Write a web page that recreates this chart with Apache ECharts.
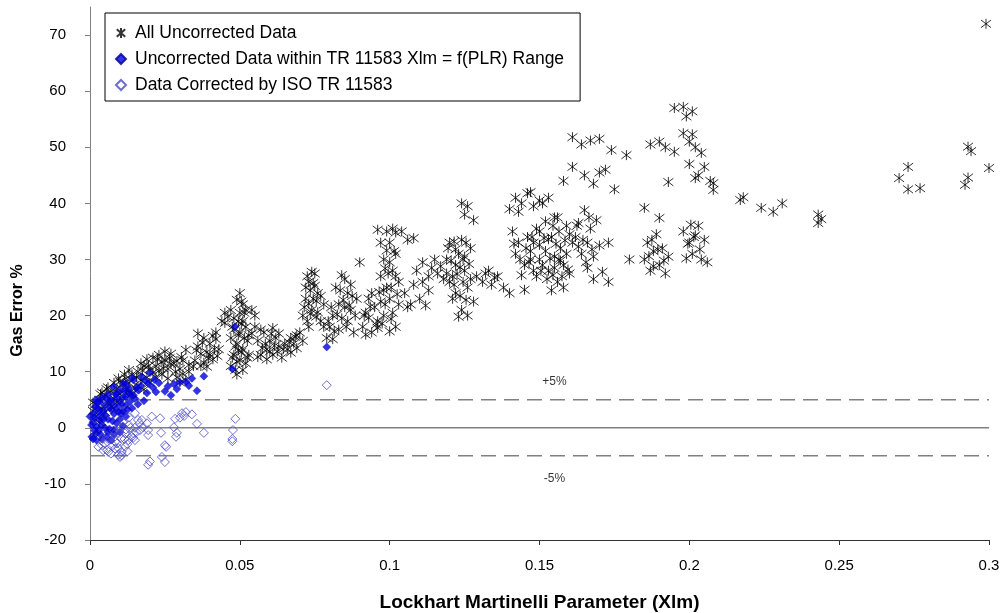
<!DOCTYPE html>
<html>
<head>
<meta charset="utf-8">
<script src="https://cdn.jsdelivr.net/npm/echarts@6/dist/echarts.min.js"></script>
<style>html,body{margin:0;padding:0;background:#fff}#c{width:1003px;height:613px}</style>
</head>
<body>
<div id="c"></div>
<script>
const FONT = '"Liberation Sans", Arial, sans-serif';
const xTicks = [0, 0.05, 0.1, 0.15, 0.2, 0.25, 0.3];
const yTicks = [-20, -10, 0, 10, 20, 30, 40, 50, 60, 70];
const seriesNames = ['All Uncorrected Data', 'Uncorrected Data within TR 11583 Xlm = f(PLR) Range', 'Data Corrected by ISO TR 11583'];

const allUncorrected = [
[0.001,3],[0.002,4.2],[0.003,5],[0.004,3.5],[0.005,5.8],[0.006,4.5],[0.007,6.5],[0.008,5.2],[0.009,7],[0.010,6],[0.011,7.8],[0.012,6.8],[0.002,2],[0.004,6.3],[0.006,7.2],[0.008,8],[0.010,8.3],[0.012,8.8],[0.003,1],[0.001,4.5],[0.005,2.8],[0.007,3.8],[0.009,4.5],
[0.013,8],[0.014,9.5],[0.015,7],[0.016,10],[0.017,8.5],[0.018,11],[0.019,9],[0.02,10.5],[0.014,6],[0.016,7.5],[0.018,6.8],[0.02,8],[0.013,10.3],[0.017,11.5],[0.019,12.2],
[0.0155,9],[0.0175,10.2],[0.0195,11],[0.0115,9.5],[0.0095,8.8],[0.0225,12.2],[0.0245,10.6],[0.0265,12.4],[0.0285,10],[0.0305,12.6],[0.0055,6.9],[0.0035,6],
[0.021,12.5],[0.022,11],[0.023,13],[0.024,9.5],[0.025,12],[0.026,10.5],[0.027,13.2],[0.022,9],[0.024,11.8],[0.026,8.8],[0.023,10.2],[0.025,13.6],[0.021,9.8],[0.027,11.4],
[0.028,11.5],[0.029,9],[0.030,10.5],[0.031,12],[0.032,8.5],[0.033,10],[0.029,11.9],[0.031,9.6],[0.032,13.9],[0.033,11.2],[0.030,8.1],
[0.035,12],[0.036,14.5],[0.037,11],[0.038,16],[0.039,13.5],[0.040,15],[0.041,12.2],[0.042,17],[0.043,14],[0.036,16.8],[0.038,11.6],[0.040,13],[0.042,15.8],[0.037,13.2],[0.041,16.4],[0.039,10.9],
[0.0355,13.8],[0.0375,15.2],[0.0395,12.4],[0.0415,14],[0.0425,12.8],[0.0345,11],
[0.044,19],[0.045,20.5],[0.046,19.8],[0.047,21],[0.045,18.7],
[0.047,11],[0.048,13],[0.049,15],[0.050,17],[0.051,19],[0.052,21],[0.049,22.8],[0.050,24],[0.048,19.5],[0.051,14],[0.052,11.5],[0.053,16.5],[0.047,16],[0.049,9.5],[0.050,12],[0.051,22],[0.048,17.5],[0.052,18],[0.053,13],[0.050,20.5],[0.049,11.8],[0.051,10.3],
[0.0475,12.5],[0.0485,14.5],[0.0495,16.5],[0.0505,18.5],[0.0515,20.5],[0.0525,15.5],[0.0485,10.3],[0.0505,13.5],[0.0515,16],[0.0495,19],[0.0525,12.5],[0.0475,18],[0.0505,22.5],[0.0495,13.8],
[0.054,21],[0.055,18],[0.056,15.5],[0.057,13],[0.055,20],[0.056,12.6],[0.054,16.8],[0.057,17.5],
[0.058,17],[0.059,14],[0.060,15.5],[0.061,13],[0.062,16],[0.063,14.5],[0.064,12.5],[0.065,15],[0.059,12.2],[0.061,17.8],[0.063,16.8],[0.060,13.6],
[0.0585,15],[0.0605,16.8],[0.0625,13.6],[0.0645,14],[0.0665,15.2],[0.0685,16.2],[0.0575,14.2],[0.0615,14.6],
[0.066,14],[0.067,16],[0.068,15],[0.069,14.2],[0.070,17],[0.071,15.5],[0.067,13.4],[0.069,16.5],
[0.071,20],[0.072,23],[0.073,26],[0.074,21],[0.075,27.5],[0.076,24],[0.077,19],[0.078,22],[0.073,18],[0.075,25.3],[0.074,27.8],[0.076,20.6],[0.072,25],[0.077,23.5],[0.078,18],[0.073,22.1],
[0.0715,21.5],[0.0725,19],[0.0735,24.5],[0.0745,23],[0.0755,19.8],[0.0735,20.3],[0.0745,25.8],[0.0725,27],[0.0755,22.6],
[0.079,16],[0.080,18],[0.081,20],[0.082,25],[0.083,22],[0.084,19.5],[0.085,26.5],[0.086,24],[0.087,21],[0.088,17],[0.089,23],[0.081,15.8],[0.083,17.5],[0.085,21.5],[0.087,25.5],[0.084,27.2],[0.086,19],
[0.0795,19],[0.0805,21.5],[0.0815,17.2],[0.0825,20.2],[0.0835,24.5],[0.0845,22.8],[0.0855,18],[0.0865,21.8],[0.0875,23.5],[0.0885,20],
[0.09,29.5],
[0.091,18],[0.092,20.5],[0.093,23],[0.094,17],[0.095,21.5],[0.096,19],[0.097,22.5],[0.092,16.6],[0.094,24],[0.096,17.8],[0.093,19.6],
[0.097,27],[0.098,30],[0.099,25],[0.100,33],[0.101,28],[0.102,31],[0.103,26],[0.098,20],[0.100,23],[0.102,18],[0.099,35],[0.101,35.5],[0.097,33],[0.103,22],[0.100,29.5],[0.098,24.5],[0.101,20.5],[0.099,31.6],[0.102,34.8],[0.104,35],[0.106,33.5],[0.096,35.3],[0.100,17.2],[0.102,27],[0.108,33.8],
[0.0915,20],[0.0935,21.6],[0.0955,18.4],[0.0985,22],[0.0995,27.5],[0.1005,25],[0.1015,31.5],[0.0985,28.4],[0.1005,19.4],[0.0975,18.6],[0.1025,23.8],[0.0965,24.2],
[0.105,24],[0.107,22],[0.108,25.5],[0.110,23],[0.111,26],[0.112,21.8],[0.113,24.5],[0.106,21.5],
[0.109,28],[0.111,29.5],[0.113,27],[0.114,28.5],[0.115,30],[0.116,27.5],[0.117,28.8],[0.118,26.5],
[0.119,30],[0.120,33],[0.121,27],[0.122,24],[0.123,31],[0.124,21],[0.125,28],[0.126,25],[0.127,32],[0.128,22.5],[0.120,26],[0.122,29],[0.124,33.5],[0.126,20],[0.121,23],[0.125,30.5],[0.127,26.5],[0.123,19.8],[0.124,40],[0.126,39.5],[0.125,38],[0.128,37],[0.122,31.8],[0.119,27.5],
[0.1195,32],[0.1205,29.8],[0.1215,25.5],[0.1225,27.4],[0.1235,23.5],[0.1245,26],[0.1255,22.8],[0.1235,28.6],[0.1215,33.2],[0.1255,33],[0.1265,29.2],[0.1245,30],
[0.129,27],[0.131,26],[0.132,27.5],[0.134,25.5],[0.135,26.8],[0.136,27],[0.133,28],
[0.138,25],[0.140,24],[0.145,24.6],
[0.140,39],[0.142,41],[0.144,40],[0.146,41.8],[0.148,39.5],[0.150,40.5],[0.143,38.5],
[0.141,35],[0.142,31],[0.143,33],[0.145,29],[0.146,34],[0.147,31.5],[0.148,28],[0.149,35.5],[0.150,30],[0.144,27.2],
[0.1415,32.8],[0.1435,30],[0.1455,32],[0.1475,34],[0.1465,29.5],
[0.161,51.8],[0.164,50.5],[0.167,51.2],[0.170,51.5],[0.174,49.5],[0.179,48.6],
[0.158,44],[0.161,46.5],[0.165,45],[0.168,43.5],[0.170,45.5],[0.172,46],[0.175,42.5],
[0.147,42],[0.151,40],[0.153,41],[0.155,37.5],
[0.147,30],[0.148,33],[0.149,27],[0.150,35],[0.151,29],[0.152,31.5],[0.153,28],[0.154,34],[0.155,30.5],[0.156,26],[0.157,32],[0.158,29],[0.159,36],[0.160,27.5],[0.161,33],[0.154,24.5],[0.156,37.5],[0.158,25],[0.152,36.8],[0.150,32.6],[0.157,29.8],[0.159,31],[0.153,33.6],[0.155,28.5],[0.160,34.5],
[0.1505,28],[0.1515,33.8],[0.1535,30.2],[0.1545,27.2],[0.1565,35],[0.1575,27],[0.1555,32.8],[0.1525,26.5],[0.1585,33.4],[0.1595,28.2],[0.1545,36],[0.1565,30],
[0.162,34],[0.163,36.5],[0.164,31],[0.165,38.8],[0.166,33],[0.167,35.5],[0.168,30.5],[0.169,37],[0.170,32.5],[0.163,32.3],
[0.1625,36],[0.1645,33.5],[0.1665,37.5],[0.1675,31.8],[0.1655,29.5],
[0.166,28.5],[0.168,26.5],[0.171,27.8],[0.173,26],
[0.173,33],[0.180,30],[0.185,39.2],[0.19,37.4],
[0.185,30],[0.186,33],[0.187,28],[0.188,31.5],[0.189,34.5],[0.190,29],[0.191,32],[0.192,27.5],[0.193,30.5],[0.188,28.8],
[0.1865,30.6],[0.1895,31.8],[0.1875,33.5],[0.1915,29.8],
[0.190,51],[0.192,50],[0.195,49.2],[0.193,43.8],[0.187,50.5],
[0.198,52.5],[0.200,51],[0.202,50],[0.204,49],[0.201,52.3],
[0.200,47],[0.203,45],[0.205,46.5],[0.207,44],[0.208,43.6],[0.202,44.5],[0.208,42.4],
[0.198,35],[0.200,33],[0.201,31],[0.203,36],[0.204,30],[0.205,33.5],[0.206,29.5],[0.199,30.2],[0.202,34.3],
[0.1995,32.8],[0.2015,34],[0.2035,31.8],[0.2005,36.2],
[0.217,40.6],
[0.195,57],[0.198,57.2],[0.201,56.4],[0.199,55.5],
[0.218,41.1],[0.224,39.2],[0.228,38.5],[0.231,40],[0.243,38],[0.243,36.5],[0.244,37.2],
[0.273,46.5],[0.27,44.5],[0.273,42.5],[0.277,42.7],
[0.293,50.1],[0.294,49.3],[0.293,44.6],[0.292,43.3],[0.3,46.3],[0.299,72]
];

const withinRange = [
[0.0195,7.9],[0.0161,6.7],[0.0145,8.5],[0.0173,9.1],[0.0111,7.9],[0.0128,6.4],[0.0089,6.1],[0.0078,7.3],[0.01,4.7],[0.0067,4.7],[0.0033,4.7],[0.0017,3.8],[0.0011,2.6],[0.0033,1.4],[0.0022,0.2],[0.0006,-1.6],[0.0022,-2.2],[0.0056,-1.6],[0.0078,-0.4],[0.0089,0.8],[0.005,2.3],[0.0072,3.2],[0.0111,5.5],[0.0134,4.7],[0.015,5.2],
[0.001,1],[0.002,-1],[0.003,3],[0.004,0.5],[0.004,-2],[0.005,4],[0.006,1.5],[0.006,-0.8],[0.007,5],[0.008,2.5],[0.009,3.5],[0.01,1.5],[0.011,3],[0.012,2],[0.003,-0.5],[0.005,0],[0.007,-2.2],[0.008,-1.2],[0.01,-0.8],[0.011,0.3],[0.012,4],[0.013,7],[0.014,3.5],[0.009,5.3],[0.0,2],[0.001,-2],[0.002,5],[0.004,5.4],[0.006,6],[0.008,4],[0.010,6.8],[0.012,5.5],[0.0135,6],[0.017,7.5],[0.019,6.2],[0.021,7.2],[0.022,6.4],[0.018,4.8],[0.016,4.2],[0.023,8],[0.014,8.9],[0.012,7.8],[0.020,9.8],
[0.0005,0.5],[0.0015,1.8],[0.0025,3.5],[0.0035,2.2],[0.0045,3],[0.0055,5.2],[0.0065,3.6],[0.0075,1.2],[0.0085,6],[0.0095,2.8],[0.0105,4.2],[0.0115,6.6],[0.0015,-0.5],[0.0035,-1.2],[0.0065,-0.2],[0.0045,1.5],[0.0105,2.6],[0.0125,3.2],[0.0155,7.2],[0.0185,8.4],[0.0215,8.6],[0.0145,5.8],[0.0025,4.5],
[0.025,6.5],[0.026,7.4],[0.028,7.8],[0.030,8.1],[0.032,8.2],[0.034,8.8],[0.029,6.9],[0.027,5.8],[0.033,7.5],
[0.0475,10.5],[0.0484,18],[0.038,9.2],[0.0357,6.6],[0.079,14.4]
];

const corrected = [
[0.0485,1.6],[0.0477,-0.4],[0.0475,-2.0],[0.0475,-2.4],[0.0357,0.7],[0.038,-0.9],[0.034,2.4],[0.032,2.8],[0.0307,2.6],[0.0314,2.1],[0.030,1.8],[0.0284,1.6],[0.028,0.1],[0.029,-0.9],[0.0287,-1.6],[0.0234,1.7],[0.0237,-0.9],[0.025,-3.1],[0.0254,-3.4],[0.024,-5.2],[0.025,-6.1],[0.0194,-6.6],[0.019,0.8],[0.0194,-0.4],[0.0194,-1.3],[0.0177,0.1],[0.016,1.4],[0.015,0],[0.0144,-1.8],[0.0124,-2.9],[0.01,-5.2],[0.0094,-3.6],[0.0077,-3.1],[0.0057,-4],[0.004,-3.1],[0.079,7.6],
[0.015,2.6],[0.0173,1.4],[0.0206,2.0],[0.0028,-3.4],[0.0044,-4.0],[0.0061,-4.3],[0.0084,-3.7],[0.0095,-4.8],[0.0106,-4.3],[0.0117,-3.4],[0.0084,-2.5],[0.005,-2.8],[0.0128,-2.2],[0.0139,-1.6],[0.015,-2.2],[0.0145,-1.0],[0.0167,-0.4],[0.0117,-1.0],[0.0095,-1.0],[0.0073,-1.6],[0.0039,-2.2],[0.02,-6.0],
[0.011,1],[0.013,0.5],[0.012,-0.3],[0.01,0.2],[0.013,1.8],[0.0105,-4.9],
[0.006,-2],[0.008,-0.5],[0.009,-2.8],[0.0115,-2],[0.0135,0],[0.0155,-0.8],[0.0165,0.8],[0.007,-4.6],[0.0125,-4.2],[0.0105,-1.8]
];

const refZero = [[0, 0], [0.3, 0]];
const refPlus = [[0, 5], [0.3, 5]];
const refMinus = [[0, -5], [0.3, -5]];
const refLabels = [[0.155, 8.3, '+5%'], [0.155, -9.0, '-5%']];

const asterisk = 'path://M5,0L5,10M0.8,1.2L9.2,8.8M0.8,8.8L9.2,1.2';

const chart = echarts.init(document.getElementById('c'), null, {renderer: 'canvas'});
chart.setOption({
  animation: false,
  backgroundColor: '#fff',
  textStyle: {fontFamily: FONT},
  grid: {left: 90, right: 14, top: 7, bottom: 73, containLabel: false, outerBoundsMode: 'none'},
  legend: {
    left: 105, top: 13, orient: 'vertical',
    borderColor: '#000', borderWidth: 1, backgroundColor: '#fff',
    padding: [10, 16, 6, 10], itemGap: 6, itemWidth: 10, itemHeight: 10,
    textStyle: {fontSize: 17.5, lineHeight: 20, fontFamily: FONT, color: '#000', padding: [0, 0, 0, 4]},
    data: seriesNames
  },
  xAxis: {
    type: 'value', min: 0, max: 0.3,
    axisLine: {show: true, onZero: false, lineStyle: {color: '#333', width: 1}},
    axisTick: {show: true, length: 5, customValues: xTicks, lineStyle: {color: '#333'}},
    axisLabel: {customValues: xTicks, fontSize: 15, color: '#000', margin: 18, fontFamily: FONT},
    splitLine: {show: false},
    name: 'Lockhart Martinelli Parameter (Xlm)', nameLocation: 'middle', nameGap: 53,
    nameTextStyle: {fontSize: 19, fontWeight: 'bold', color: '#000', fontFamily: FONT}
  },
  yAxis: {
    type: 'value', min: -20, max: 75,
    axisLine: {show: true, onZero: false, lineStyle: {color: '#808080', width: 1}},
    axisTick: {show: true, length: 5, customValues: yTicks, lineStyle: {color: '#808080'}},
    axisLabel: {customValues: yTicks, fontSize: 15, color: '#000', margin: 24, fontFamily: FONT},
    splitLine: {show: false},
    name: 'Gas Error %', nameLocation: 'middle', nameGap: 64, nameRotate: 90,
    nameTextStyle: {fontSize: 16, fontWeight: 'bold', color: '#000', fontFamily: FONT, padding: [0, 74, 0, 0]}
  },
  series: [
    {type: 'line', data: refZero, symbol: 'none', silent: true, lineStyle: {color: '#808080', width: 1.5}, z: 1},
    {type: 'line', data: refPlus, symbol: 'none', silent: true, lineStyle: {color: '#808080', width: 1.5, type: [15, 8]}, z: 1},
    {type: 'line', data: refMinus, symbol: 'none', silent: true, lineStyle: {color: '#808080', width: 1.5, type: [15, 8]}, z: 1},
    {type: 'scatter', data: refLabels, symbolSize: 0, silent: true, z: 1,
      label: {show: true, position: 'inside', formatter: p => p.data[2], fontSize: 12, color: '#000', fontFamily: FONT}},
    {name: seriesNames[0], type: 'scatter', data: allUncorrected, symbol: asterisk, symbolSize: 10,
      itemStyle: {color: 'rgba(0,0,0,0)', borderColor: '#000', borderWidth: 1}, z: 2},
    {name: seriesNames[1], type: 'scatter', data: withinRange, symbol: 'diamond', symbolSize: 8,
      itemStyle: {color: '#0000e6', borderColor: '#00008c', borderWidth: 0.5}, z: 3},
    {name: seriesNames[2], type: 'scatter', data: corrected, symbol: 'diamond', symbolSize: 9,
      itemStyle: {color: 'rgba(0,0,0,0)', borderColor: '#4a4ac4', borderWidth: 1}, z: 4}
  ]
});
</script>
</body>
</html>
